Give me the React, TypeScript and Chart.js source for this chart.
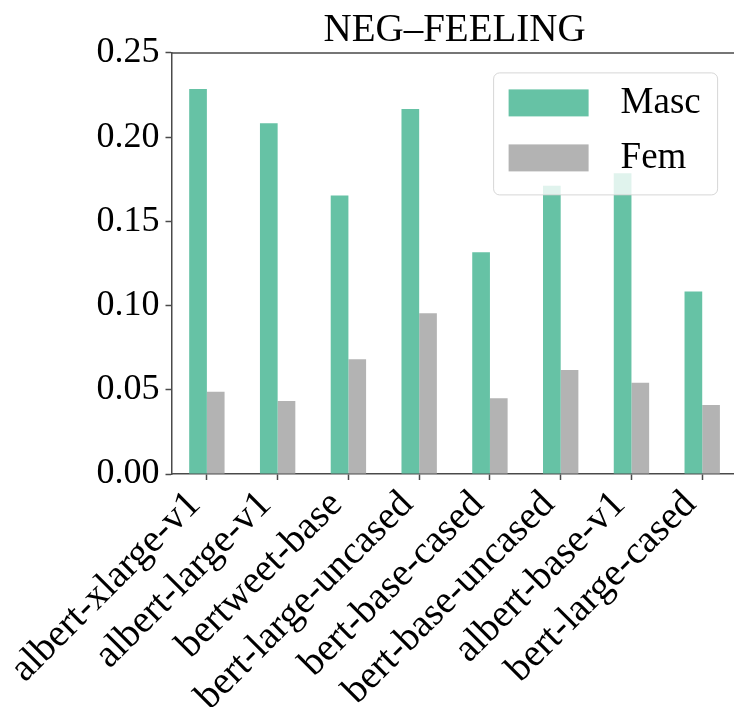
import React, { useEffect, useRef } from 'react';
import { Chart, registerables } from 'chart.js';

Chart.register(...registerables);

const categories = [
  'albert-xlarge-v1',
  'albert-large-v1',
  'bertweet-base',
  'bert-large-uncased',
  'bert-base-cased',
  'bert-base-uncased',
  'albert-base-v1',
  'bert-large-cased',
];
const mascValues = [0.2286, 0.2083, 0.1653, 0.2167, 0.1316, 0.1712, 0.1786, 0.1083];
const femValues = [0.0489, 0.0434, 0.0681, 0.0954, 0.0449, 0.0618, 0.0542, 0.041];
const yTicks = [0, 0.05, 0.1, 0.15, 0.2, 0.25];
const seriesLabels = ['Masc', 'Fem'];
const seriesColors = ['#66c2a5', '#b3b3b3'];
const chartTitle = 'NEG–FEELING';

const FONT = '"Liberation Serif", "Times New Roman", serif';
const AXIS = '#4a4a4a';
const W = 760;
const H = 707;

const framePlugin = {
  id: 'frameAndLegend',
  afterDatasetsDraw(chart: any) {
    const { ctx, chartArea: a } = chart;
    ctx.save();
    ctx.strokeStyle = AXIS;
    ctx.lineWidth = 1.5;
    ctx.beginPath();
    ctx.moveTo(a.left, a.top);
    ctx.lineTo(a.right, a.top);
    ctx.lineTo(a.right, a.bottom);
    ctx.stroke();

    const w = 224;
    const h = 122;
    const x = a.right - 20 - w;
    const y = a.top + 20;
    ctx.beginPath();
    if ((ctx as any).roundRect) (ctx as any).roundRect(x, y, w, h, 6);
    else ctx.rect(x, y, w, h);
    ctx.fillStyle = 'rgba(255,255,255,0.8)';
    ctx.fill();
    ctx.strokeStyle = 'rgba(204,204,204,0.8)';
    ctx.lineWidth = 1;
    ctx.stroke();

    chart.data.datasets.forEach((ds: any, i: number) => {
      const cy = y + 30 + i * 55;
      ctx.fillStyle = ds.backgroundColor;
      ctx.fillRect(x + 15, cy - 13.5, 80, 27);
      ctx.fillStyle = '#000';
      ctx.font = `37px ${FONT}`;
      ctx.textAlign = 'left';
      ctx.textBaseline = 'middle';
      ctx.fillText(ds.label, x + 127, cy);
    });
    ctx.restore();
  },
};

export default function App() {
  const ref = useRef<HTMLCanvasElement>(null);

  useEffect(() => {
    if (!ref.current) return;
    const tickFont = { family: FONT, size: 36, weight: 'normal' as const };
    const chart = new Chart(ref.current, {
      type: 'bar',
      data: {
        labels: categories,
        datasets: [
          {
            label: seriesLabels[0],
            data: mascValues,
            backgroundColor: seriesColors[0],
            borderWidth: 0,
            categoryPercentage: 0.5,
            barPercentage: 1.0,
          },
          {
            label: seriesLabels[1],
            data: femValues,
            backgroundColor: seriesColors[1],
            borderWidth: 0,
            categoryPercentage: 0.5,
            barPercentage: 1.0,
          },
        ],
      },
      options: {
        responsive: false,
        animation: false,
        layout: { padding: { left: 0, right: W - 737.6, top: 0, bottom: 0 } },
        plugins: {
          legend: { display: false },
          tooltip: { enabled: false },
          title: {
            display: true,
            text: chartTitle,
            fullSize: false,
            color: '#000',
            font: { family: FONT, size: 39, weight: 'normal', lineHeight: 1.1 },
            padding: { top: 9, bottom: 1 },
          },
        },
        scales: {
          x: {
            grid: {
              display: true,
              offset: false,
              drawOnChartArea: false,
              drawTicks: true,
              tickLength: 6,
              tickWidth: 1.5,
              tickColor: AXIS,
            },
            border: { display: true, color: AXIS, width: 1.5 },
            ticks: {
              autoSkip: false,
              minRotation: 45,
              maxRotation: 45,
              font: { family: FONT, size: 39, weight: 'normal' },
              color: '#000',
              padding: 2,
              labelOffset: -12,
            },
            afterFit(s: any) {
              s.height = 233;
              s.paddingLeft = 0;
              s.paddingRight = 0;
            },
          },
          y: {
            min: 0,
            max: 0.25,
            afterBuildTicks(s: any) {
              s.ticks = yTicks.map((v) => ({ value: v }));
            },
            grid: {
              display: true,
              drawOnChartArea: false,
              drawTicks: true,
              tickLength: 6,
              tickWidth: 1.5,
              tickColor: AXIS,
            },
            border: { display: true, color: AXIS, width: 1.5 },
            ticks: {
              font: tickFont,
              color: '#000',
              padding: 6,
              callback: (v: any) => Number(v).toFixed(2),
            },
            afterFit(s: any) {
              s.width = 171.5;
              s.paddingTop = 0;
              s.paddingBottom = 0;
            },
          },
        },
      },
      plugins: [framePlugin],
    });
    return () => chart.destroy();
  }, []);

  return (
    <div
      style={{
        position: 'absolute',
        left: 0,
        top: 0,
        width: 734,
        height: 707,
        overflow: 'hidden',
        background: '#fff',
      }}
    >
      <canvas ref={ref} width={W} height={H} style={{ width: W, height: H, display: 'block' }} />
    </div>
  );
}
